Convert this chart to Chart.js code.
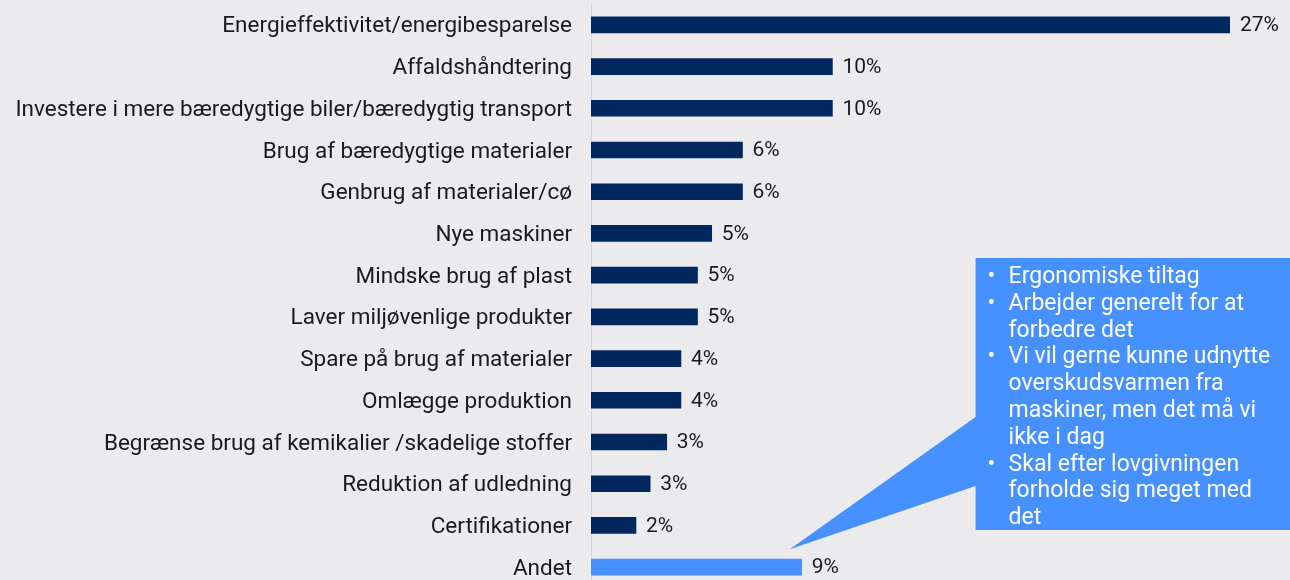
<!DOCTYPE html>
<html>
<head>
<meta charset="utf-8">
<script src="https://cdn.jsdelivr.net/npm/chart.js@4.4.0/dist/chart.umd.min.js"></script>
<style>
  html, body { margin: 0; padding: 0; background: #ebebee; overflow: hidden; }
  #wrap { width: 1290px; height: 592px; position: relative; }
</style>
</head>
<body>
<div id="wrap"><canvas id="tiltagChart"></canvas></div>
<script>
// Data
const kategorier = [
  'Energieffektivitet/energibesparelse',
  'Affaldshåndtering',
  'Investere i mere bæredygtige biler/bæredygtig transport',
  'Brug af bæredygtige materialer',
  'Genbrug af materialer/cø',
  'Nye maskiner',
  'Mindske brug af plast',
  'Laver miljøvenlige produkter',
  'Spare på brug af materialer',
  'Omlægge produktion',
  'Begrænse brug af kemikalier /skadelige stoffer',
  'Reduktion af udledning',
  'Certifikationer',
  'Andet'
];
const andele = [27.0, 10.2, 10.2, 6.4, 6.4, 5.1, 4.5, 4.5, 3.8, 3.8, 3.2, 2.5, 1.9, 8.9];
const andelTekst = ['27%', '10%', '10%', '6%', '6%', '5%', '5%', '5%', '4%', '4%', '3%', '3%', '2%', '9%'];
const andetPunkter = [
  ['Ergonomiske tiltag'],
  ['Arbejder generelt for at', 'forbedre det'],
  ['Vi vil gerne kunne udnytte', 'overskudsvarmen fra', 'maskiner, men det må vi', 'ikke i dag'],
  ['Skal efter lovgivningen', 'forholde sig meget med', 'det']
];

const navy = '#00275e';
const lyseblaa = '#4690ff';
const fontNavn = 'Roboto, "Noto Sans", sans-serif';

const farver = kategorier.map((k, i) => i === kategorier.length - 1 ? lyseblaa : navy);

// Værdier til højre for søjlerne
const vaerdiPlugin = {
  id: 'vaerdier',
  afterDatasetsDraw(chart) {
    const ctx = chart.ctx;
    const meta = chart.getDatasetMeta(0);
    ctx.save();
    ctx.font = '21px ' + fontNavn;
    ctx.fillStyle = '#1a1a1a';
    ctx.textAlign = 'left';
    ctx.textBaseline = 'middle';
    meta.data.forEach((bar, i) => {
      ctx.fillText(andelTekst[i], bar.x + 10, bar.y + 1);
    });
    ctx.restore();
  }
};

// Boks med uddybning af "Andet"
const boksPlugin = {
  id: 'andetBoks',
  afterDraw(chart) {
    const ctx = chart.ctx;
    const x = chart.scales.x;
    const meta = chart.getDatasetMeta(0);
    const andetBar = meta.data[meta.data.length - 1];
    const venstre = x.getPixelForValue(16.25);
    const top = 258;
    const bund = 530;
    const spidsX = x.getPixelForValue(8.4);
    const spidsY = andetBar.y - 18;

    ctx.save();
    ctx.fillStyle = lyseblaa;
    ctx.beginPath();
    ctx.moveTo(venstre, top);
    ctx.lineTo(chart.width + 5, top);
    ctx.lineTo(chart.width + 5, bund);
    ctx.lineTo(venstre, bund);
    ctx.lineTo(venstre, 486);
    ctx.lineTo(spidsX, spidsY);
    ctx.lineTo(venstre, 417);
    ctx.closePath();
    ctx.fill();

    ctx.fillStyle = '#ffffff';
    ctx.font = '23px ' + fontNavn;
    ctx.textBaseline = 'alphabetic';
    let y = 283;
    andetPunkter.forEach(punkt => {
      ctx.fillText('•', venstre + 12, y);
      punkt.forEach(linje => {
        ctx.fillText(linje, venstre + 33, y);
        y += 26.8;
      });
    });
    ctx.restore();
  }
};

new Chart(document.getElementById('tiltagChart'), {
  type: 'bar',
  data: {
    labels: kategorier,
    datasets: [{
      data: andele,
      backgroundColor: farver,
      barThickness: 16,
      borderSkipped: false
    }]
  },
  options: {
    indexAxis: 'y',
    responsive: true,
    maintainAspectRatio: false,
    animation: false,
    layout: { padding: { top: 4, bottom: 4, right: 60, left: 0 } },
    plugins: {
      legend: { display: false },
      tooltip: { enabled: false }
    },
    scales: {
      x: {
        display: false,
        min: 0,
        max: 27
      },
      y: {
        afterFit(scale) {
          scale.width = 591;
          scale.paddingTop = 0;
          scale.paddingBottom = 0;
        },
        grid: { display: false, drawTicks: false },
        border: { display: true, color: '#d3d3d8', width: 1 },
        ticks: {
          padding: 19,
          labelOffset: 2,
          color: '#1a1a1a',
          font: { family: fontNavn, size: 22.5 }
        }
      }
    }
  },
  plugins: [vaerdiPlugin, boksPlugin]
});
</script>
</body>
</html>
